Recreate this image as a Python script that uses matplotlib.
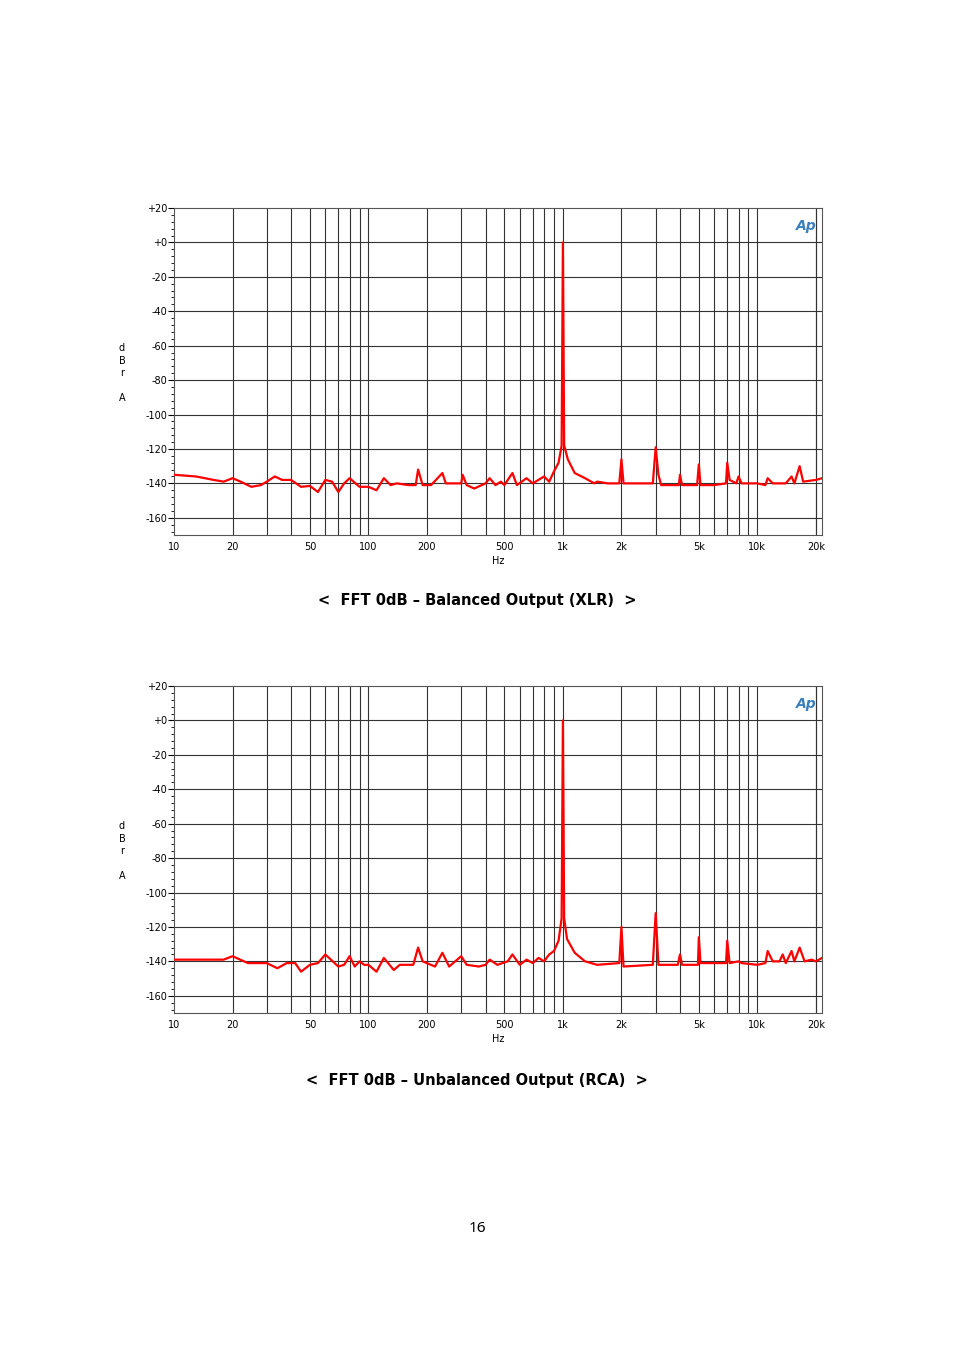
import matplotlib
matplotlib.use("Agg")
import matplotlib.pyplot as plt
from matplotlib.ticker import FixedLocator, NullFormatter

# spectrum points (Hz, dBrA)
xlr_freq = [10, 13, 16, 18, 20, 22, 25, 28, 30, 33, 36, 40, 45, 50, 55, 60, 65, 70, 75, 80,
            90, 100, 110, 120, 130, 140, 160, 175, 180, 190, 210, 240, 250, 300, 305, 320,
            350, 400, 420, 450, 480, 500, 550, 580, 650, 700, 800, 850, 900, 950, 985, 1000,
            1015, 1060, 1150, 1300, 1450, 1500, 1700, 1950, 2000, 2050, 2500, 2900, 3000,
            3100, 3200, 3600, 3950, 4000, 4100, 4900, 5000, 5100, 6000, 6900, 7000, 7200,
            7800, 8000, 8300, 10000, 11000, 11300, 12000, 14000, 15000, 15500, 16500, 17200,
            20000, 21500]
xlr_db = [-135, -136, -138, -139, -137, -139, -142, -141, -139, -136, -138, -138, -142, -141.5,
          -145, -138, -139, -145, -140, -137, -142, -142, -144, -137, -141, -140, -141, -141,
          -132, -141, -141, -134, -140, -140, -135, -141, -143, -140, -137, -141, -139, -141,
          -134, -141, -137, -140, -136, -139, -133, -128, -118, 0, -118, -126, -134, -137,
          -140, -139, -140, -140, -126, -140, -140, -140, -119, -135, -141, -141, -141, -135,
          -141, -141, -129, -141, -141, -140, -128, -138, -140, -136, -140, -140, -141, -137,
          -140, -140, -136, -140, -130, -139, -138, -137]

rca_freq = [10, 18, 20, 24, 30, 34, 38, 42, 45, 50, 55, 60, 70, 75, 80, 85, 90, 95, 100, 110,
            120, 135, 145, 170, 180, 190, 220, 240, 260, 300, 320, 370, 400, 420, 460, 520,
            550, 600, 650, 700, 750, 800, 850, 900, 950, 985, 1000, 1015, 1050, 1150, 1300,
            1500, 1950, 2000, 2050, 2900, 3000, 3100, 3900, 4000, 4100, 4950, 5000, 5100,
            6900, 7000, 7200, 8000, 8300, 10000, 11000, 11300, 12000, 13000, 13500, 14000,
            15000, 15500, 16500, 17500, 19000, 20000, 21500]
rca_db = [-139, -139, -137, -141, -141, -144, -141, -141, -146, -142, -141, -136, -143, -142,
          -137, -143, -140, -142, -142, -146, -138, -145, -142, -142, -132, -140, -143, -135,
          -143, -137, -142, -143, -142, -139, -142, -140, -136, -142, -139, -141, -138, -140,
          -136, -134, -128, -115, 0, -115, -127, -135, -140, -142, -141, -120, -143, -142,
          -112, -142, -142, -136, -142, -142, -126, -141, -141, -128, -141, -140, -141, -142,
          -141, -134, -140, -140, -136, -141, -134, -140, -132, -140, -139, -140, -138]

y_ticks = [20, 0, -20, -40, -60, -80, -100, -120, -140, -160]
y_labels = ["+20", "+0", "-20", "-40", "-60", "-80", "-100", "-120", "-140", "-160"]
x_ticks = [10, 20, 50, 100, 200, 500, 1000, 2000, 5000, 10000, 20000]
x_labels = ["10", "20", "50", "100", "200", "500", "1k", "2k", "5k", "10k", "20k"]

W, H = 954, 1350
fig = plt.figure(figsize=(W / 100, H / 100), dpi=100)


def draw(top, freq, db, title, title_y):
    ax = fig.add_axes([174 / W, 1 - (top + 327) / H, 648 / W, 327 / H])
    ax.set_xscale("log")
    ax.set_xlim(10, 21500)
    ax.set_ylim(-170, 20)
    grid = [m * 10 ** d for d in range(1, 5) for m in range(1, 10)] + [20000]
    for g in grid:
        if 10 < g < 21500:
            ax.axvline(g, color="#333333", lw=0.8, zorder=1)
    for t in y_ticks[1:]:
        ax.axhline(t, color="#333333", lw=0.8, zorder=1)
    ax.plot(freq, db, color="red", lw=1.6, zorder=3)
    ax.set_yticks(y_ticks)
    ax.set_yticklabels(y_labels, fontsize=7)
    ax.yaxis.set_minor_locator(FixedLocator(range(-168, 20, 4)))
    ax.set_xticks(x_ticks)
    ax.set_xticklabels(x_labels, fontsize=7)
    ax.xaxis.set_minor_formatter(NullFormatter())
    ax.tick_params(axis="x", which="both", length=0, pad=5)
    ax.tick_params(axis="y", which="major", length=4, pad=1)
    ax.tick_params(axis="y", which="minor", length=2)
    for s in ax.spines.values():
        s.set_color("#555555")
        s.set_linewidth(0.8)
    ax.set_xlabel("Hz", fontsize=7, labelpad=3)
    fig.text(122 / W, 1 - (top + 165) / H, "d\nB\nr\n\nA", fontsize=7,
             ha="center", va="center", linespacing=1.3)
    ax.text(0.975, 0.965, "Ap", transform=ax.transAxes, ha="center", va="top",
            fontsize=10, color="#3a7fc0", style="italic", fontweight="bold")
    fig.text(0.5, 1 - title_y / H, title, fontsize=10.5, fontweight="bold",
             ha="center", va="center", family="DejaVu Sans")


draw(208, xlr_freq, xlr_db, "<  FFT 0dB \u2013 Balanced Output (XLR)  >", 600)
draw(686, rca_freq, rca_db, "<  FFT 0dB \u2013 Unbalanced Output (RCA)  >", 1080)
fig.text(0.5, 1 - 1229 / H, "16", fontsize=11, ha="center", va="center", family="Noto Sans")

fig.savefig("out.png", dpi=100)
